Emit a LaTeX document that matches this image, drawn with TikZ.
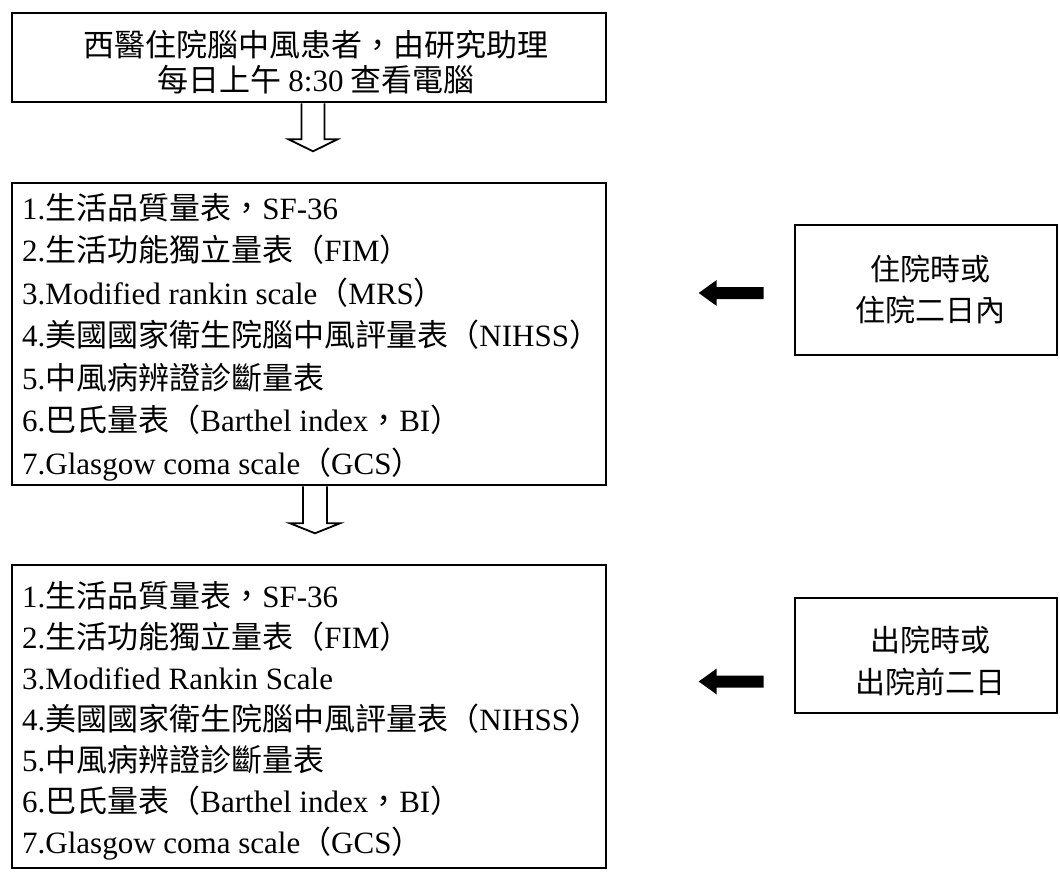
\documentclass[tikz,border=0pt]{standalone}
\usepackage{fontspec}
\setmainfont{Liberation Serif}
\newfontfamily\cjk{Noto Sans CJK TC}
\usetikzlibrary{calc}
\newcommand{\zh}[1]{{\cjk #1}}
\begin{document}
\begin{tikzpicture}[x=1pt,y=-1pt,
  box/.style={draw, line width=2.6pt, inner sep=0pt},
  txt/.style={anchor=base west, inner sep=0pt, font=\fontsize{31}{31}\selectfont},
  ctxt/.style={anchor=base, inner sep=0pt, font=\fontsize{31}{31}\selectfont},
  rtxt/.style={anchor=base, inner sep=0pt, font=\fontsize{30}{30}\selectfont},
  hollow/.style={draw, line width=1.8pt, fill=white, line join=miter},
  solidarrow/.style={fill=black}]
\useasboundingbox (0,0) rectangle (1060,872);

% top box
\node[box, minimum width=594pt, minimum height=89pt] (top) at (309,57.5) {};
\node[ctxt] (t1) at (316,57) {\zh{西醫住院腦中風患者，由研究助理}};
\node[ctxt] (t2) at (316,92) {\zh{每日上午 }8:30\zh{ 查看電腦}};

% middle box
\node[box, minimum width=594pt, minimum height=302pt] (mid) at (309,334) {};
\node[txt] (m1) at (22,219) {1.\zh{生活品質量表，}SF-36};
\node[txt] (m2) at (22,261.5) {2.\zh{生活功能獨立量表（}FIM\zh{）}};
\node[txt] (m3) at (22,304) {3.Modified rankin scale\zh{（}MRS\zh{）}};
\node[txt] (m4) at (22,346.5) {4.\zh{美國國家衛生院腦中風評量表（}NIHSS\zh{）}};
\node[txt] (m5) at (22,389) {5.\zh{中風病辨證診斷量表}};
\node[txt] (m6) at (22,431.5) {6.\zh{巴氏量表（}Barthel index\zh{，}BI\zh{）}};
\node[txt] (m7) at (22,474) {7.Glasgow coma scale\zh{（}GCS\zh{）}};

% bottom box
\node[box, minimum width=594pt, minimum height=303pt] (bot) at (309,716.5) {};
\node[txt] (b1) at (22,607) {1.\zh{生活品質量表，}SF-36};
\node[txt] (b2) at (22,648) {2.\zh{生活功能獨立量表（}FIM\zh{）}};
\node[txt] (b3) at (22,689) {3.Modified Rankin Scale};
\node[txt] (b4) at (22,730) {4.\zh{美國國家衛生院腦中風評量表（}NIHSS\zh{）}};
\node[txt] (b5) at (22,771) {5.\zh{中風病辨證診斷量表}};
\node[txt] (b6) at (22,812) {6.\zh{巴氏量表（}Barthel index\zh{，}BI\zh{）}};
\node[txt] (b7) at (22,853) {7.Glasgow coma scale\zh{（}GCS\zh{）}};

% right boxes
\node[box, minimum width=262pt, minimum height=130pt] (r1) at (926,290) {};
\node[rtxt] (r1a) at (930,280) {\zh{住院時或}};
\node[rtxt] (r1b) at (930,321) {\zh{住院二日內}};
\node[box, minimum width=262pt, minimum height=115pt] (r2) at (926,655.5) {};
\node[rtxt] (r2a) at (930,651) {\zh{出院時或}};
\node[rtxt] (r2b) at (930,693) {\zh{出院前二日}};

% hollow down arrows
\coordinate (h1) at ($(top.south)+(4,0)$);
\draw[hollow] ($(h1)+(-11.5,0)$) -- ($(h1)+(-11.5,36)$) -- ($(h1)+(-24.5,36)$)
  -- ($(h1)+(0,48)$) -- ($(h1)+(24.5,36)$) -- ($(h1)+(11.5,36)$) -- ($(h1)+(11.5,0)$);
\coordinate (h2) at ($(mid.south)+(6,0)$);
\draw[hollow] ($(h2)+(-12,0)$) -- ($(h2)+(-12,37)$) -- ($(h2)+(-25,37)$)
  -- ($(h2)+(0,47)$) -- ($(h2)+(25,37)$) -- ($(h2)+(12,37)$) -- ($(h2)+(12,0)$);

% solid left arrows
\coordinate (a1) at ($(r1.west)+(-30,3)$);
\fill[solidarrow] (a1) ++(0,-6) -- ++(-47,0) -- ++(0,-7) -- ++(-18,13) -- ++(18,13) -- ++(0,-7) -- ++(47,0) -- cycle;
\coordinate (a2) at ($(r2.west)+(-30,26)$);
\fill[solidarrow] (a2) ++(0,-6) -- ++(-47,0) -- ++(0,-7) -- ++(-18,13) -- ++(18,13) -- ++(0,-7) -- ++(47,0) -- cycle;
\end{tikzpicture}
\end{document}
